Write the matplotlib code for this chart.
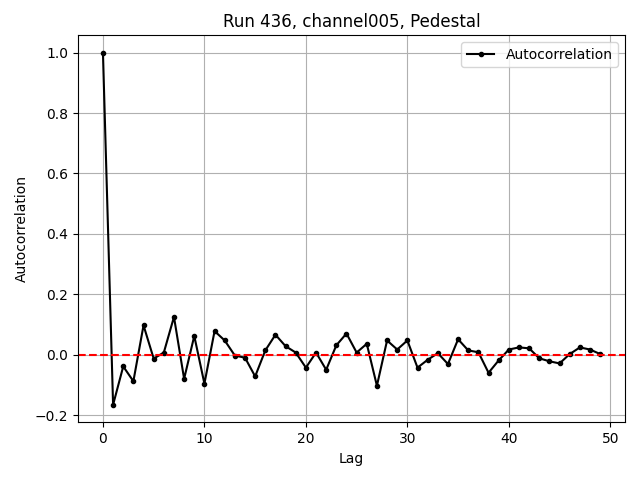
import matplotlib
matplotlib.use("Agg")
import matplotlib.pyplot as plt
import numpy as np

# Autocorrelation values, lag 0..49
acf = [1.0, -0.166, -0.039, -0.088, 0.097, -0.013, 0.007, 0.125, -0.08, 0.062,
       -0.096, 0.078, 0.047, -0.003, -0.01, -0.072, 0.014, 0.066, 0.028, 0.007,
       -0.043, 0.007, -0.05, 0.031, 0.07, 0.007, 0.036, -0.103, 0.047, 0.017,
       0.047, -0.043, -0.017, 0.005, -0.031, 0.051, 0.014, 0.008, -0.06, -0.019,
       0.017, 0.024, 0.021, -0.012, -0.022, -0.029, 0.002, 0.024, 0.017, 0.002]
lags = np.arange(len(acf))

fig, ax = plt.subplots(figsize=(6.4, 4.8), dpi=100)
ax.plot(lags, acf, marker='.', color='black', label='Autocorrelation')
ax.axhline(0, color='red', linestyle='--')
ax.set_title('Run 436, channel005, Pedestal')
ax.set_xlabel('Lag')
ax.set_ylabel('Autocorrelation')
ax.grid(True)
ax.legend(loc='upper right')
fig.subplots_adjust(left=0.122, right=0.9766, top=0.927, bottom=0.12)
fig.savefig('out.png')
